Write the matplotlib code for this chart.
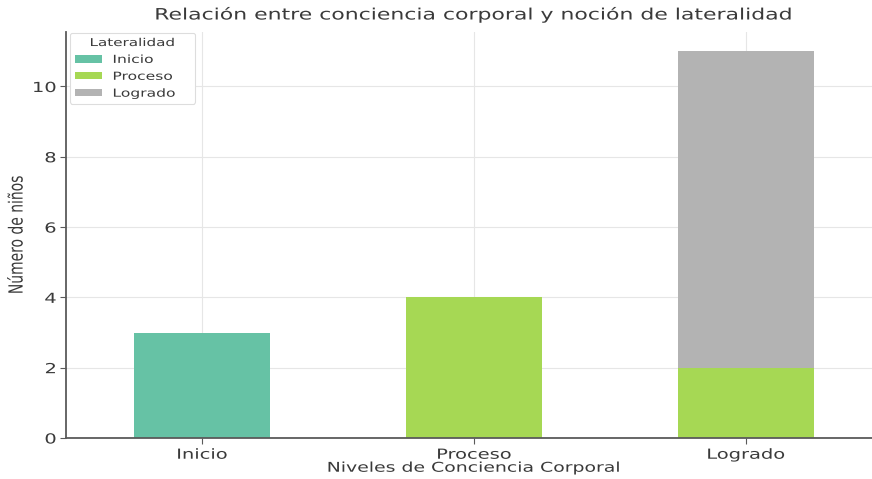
import matplotlib
matplotlib.use("Agg")
import matplotlib.pyplot as plt
import matplotlib.patheffects as pe
from matplotlib.transforms import Affine2D
import numpy as np

# data
categories = ['Inicio', 'Proceso', 'Logrado']
inicio = [3, 0, 0]
proceso = [0, 4, 2]
logrado = [0, 0, 9]
series_names = ['Inicio', 'Proceso', 'Logrado']
colors = ['#66c2a5', '#a6d854', '#b3b3b3']

TXT = '#3a3a3a'
SX = 1.4  # the reference is stretched horizontally


class Stretch(pe.AbstractPathEffect):
    # widen glyphs horizontally, around left / center / right of the string
    def __init__(self, sx=SX, about='center', axis='x'):
        super().__init__()
        self.sx = sx
        self.about = about
        self.axis = axis

    def draw_path(self, renderer, gc, tpath, affine, rgbFace=None):
        ext = tpath.get_extents()
        if self.axis == 'y':
            cy = (ext.y0 + ext.y1) / 2
            t = Affine2D().translate(0, -cy).scale(1, self.sx).translate(0, cy) + affine
        else:
            if self.about == 'left':
                cx = ext.x0
            elif self.about == 'right':
                cx = ext.x1
            else:
                cx = (ext.x0 + ext.x1) / 2
            t = Affine2D().translate(-cx, 0).scale(self.sx, 1).translate(cx, 0) + affine
        renderer.draw_path(gc, tpath, t, rgbFace)


fig = plt.figure(figsize=(8.72, 4.79), dpi=100)
ax = fig.add_axes([66 / 872, 41 / 479, 816 / 872, 406 / 479])

ind = np.arange(len(categories))
bottom = np.zeros(len(categories))
for name, vals, c in zip(series_names, [inicio, proceso, logrado], colors):
    ax.bar(ind, vals, 0.5, bottom=bottom, color=c, label=name, zorder=2)
    bottom += np.array(vals)

ax.set_xlim(-0.5, 2.5)
ax.set_ylim(0, 11.55)
ax.set_xticks(ind)
ax.set_xticklabels(categories)
ax.set_yticks([0, 2, 4, 6, 8, 10])

ax.grid(True, color='#e6e6e6', linewidth=0.8, zorder=0)
ax.set_axisbelow(True)
for s in ['top', 'right']:
    ax.spines[s].set_visible(False)
for s in ['left', 'bottom']:
    ax.spines[s].set_color('#5a5a5a')
    ax.spines[s].set_linewidth(1.3)
ax.tick_params(colors='#5a5a5a', labelcolor=TXT, labelsize=10, length=4, pad=3)

t = ax.set_title('Relación entre conciencia corporal y noción de lateralidad',
                 fontsize=11.3, color=TXT, pad=9)
t.set_path_effects([Stretch()])
xl = ax.set_xlabel('Niveles de Conciencia Corporal', fontsize=9.7, color=TXT, labelpad=0)
xl.set_path_effects([Stretch()])
yl = ax.set_ylabel('Número de niños', fontsize=10, color=TXT, labelpad=11)
yl.set_path_effects([Stretch(axis='y')])

for lab in ax.get_xticklabels():
    lab.set_path_effects([Stretch()])
for lab in ax.get_yticklabels():
    lab.set_path_effects([Stretch(about='right')])

leg = ax.legend(title='Lateralidad', loc='upper left', fontsize=8, title_fontsize=7.8,
                bbox_to_anchor=(0.005, 0.9975, 0.153, 0), mode='expand', borderaxespad=0,
                handlelength=2.4, handleheight=0.6, labelspacing=0.62,
                borderpad=0.45, handletextpad=1.0, framealpha=1, edgecolor='#dddddd')
leg.get_frame().set_linewidth(0.8)
leg.get_title().set_color(TXT)
leg.get_title().set_path_effects([Stretch()])
for txt in leg.get_texts():
    txt.set_color(TXT)
    txt.set_path_effects([Stretch(about='left')])

fig.savefig('out.png', dpi=100)
